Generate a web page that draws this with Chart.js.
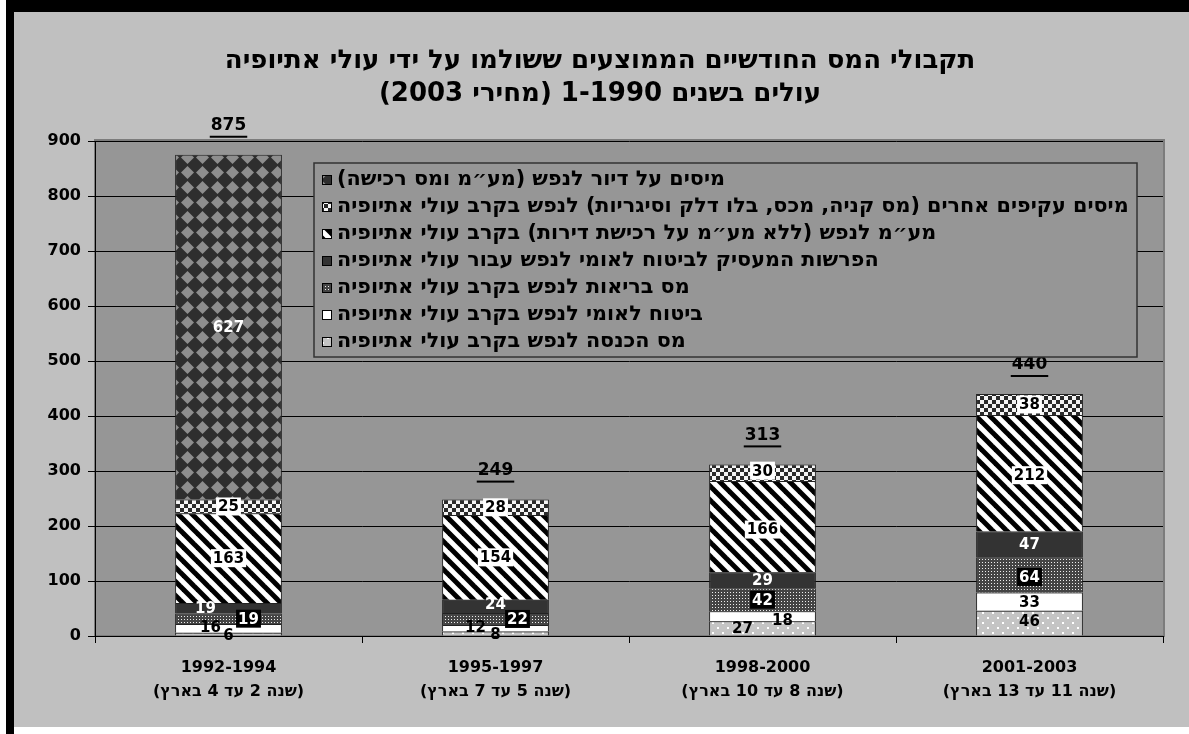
<!DOCTYPE html>
<html lang="he">
<head>
<meta charset="utf-8">
<title>תקבולי המס</title>
<script src="https://cdn.jsdelivr.net/npm/chart.js@4.4.1/dist/chart.umd.min.js"></script>
<style>
  html, body { margin: 0; padding: 0; background: #fff; }
  canvas { display: block; }
</style>
</head>
<body>
<canvas id="taxChart" width="1189" height="734" dir="rtl"></canvas>
<script>
// נתונים (ש"ח לנפש לחודש, מחירי 2003)
const periods = [
    ['1992-1994', '(שנה 2 עד 4 בארץ)'],
    ['1995-1997', '(שנה 5 עד 7 בארץ)'],
    ['1998-2000', '(שנה 8 עד 10 בארץ)'],
    ['2001-2003', '(שנה 11 עד 13 בארץ)']
];
const incomeTax = [6, 8, 27, 46];
const nationalInsurance = [16, 12, 18, 33];
const healthTax = [19, 22, 42, 64];
const employerInsurance = [19, 24, 29, 47];
const vatTax = [163, 154, 166, 212];
const otherIndirect = [25, 28, 30, 38];
const housingTax = [627, 0, 0, 0];
const totals = [875, 249, 313, 440];

const seriesNames = [
    'מס הכנסה לנפש בקרב עולי אתיופיה',
    'ביטוח לאומי לנפש בקרב עולי אתיופיה',
    'מס בריאות לנפש בקרב עולי אתיופיה',
    'הפרשות המעסיק לביטוח לאומי לנפש עבור עולי אתיופיה',
    'מע״מ לנפש (ללא מע״מ על רכישת דירות) בקרב עולי אתיופיה',
    'מיסים עקיפים אחרים (מס קניה, מכס, בלו דלק וסיגריות) לנפש בקרב עולי אתיופיה',
    'מיסים על דיור לנפש (מע״מ ומס רכישה)'
];
const titleLines = [
    'תקבולי המס החודשיים הממוצעים ששולמו על ידי עולי אתיופיה',
    'עולים בשנים 1-1990 (מחירי 2003)'
];

const FONT = '"DejaVu Sans", "Liberation Sans", sans-serif';

// גודל גופן שמתאים את הטקסט לרוחב נתון
function fitSize(ctx, text, width, maxSize) {
    ctx.font = 'bold 20px ' + FONT;
    const w = ctx.measureText(text).width;
    return Math.min(maxSize, 20 * width / w);
}

// דוגמאות מילוי
function makePattern(size, draw) {
    const c = document.createElement('canvas');
    c.width = size;
    c.height = size;
    const g = c.getContext('2d');
    draw(g, size);
    return g.createPattern(c, 'repeat');
}

const fills = [
    makePattern(10, (g, s) => {
        g.fillStyle = '#c4c4c4'; g.fillRect(0, 0, s, s);
        g.fillStyle = '#fff'; g.fillRect(2, 2, 2, 2); g.fillRect(7, 7, 2, 2);
    }),
    '#ffffff',
    makePattern(3, (g, s) => {
        g.fillStyle = '#444'; g.fillRect(0, 0, s, s);
        g.fillStyle = '#eee'; g.fillRect(1, 1, 1, 1);
    }),
    '#333333',
    makePattern(14, (g, s) => {
        g.fillStyle = '#fff'; g.fillRect(0, 0, s, s);
        g.strokeStyle = '#000'; g.lineWidth = 5;
        for (let k = -1; k <= 1; k++) {
            g.beginPath();
            g.moveTo(-3, k * s - 3);
            g.lineTo(s + 3, k * s + s + 3);
            g.stroke();
        }
    }),
    makePattern(8, (g, s) => {
        g.fillStyle = '#f4f4f4'; g.fillRect(0, 0, s, s);
        g.fillStyle = '#2a2a2a'; g.fillRect(0, 0, 4, 4); g.fillRect(4, 4, 4, 4);
    }),
    makePattern(15, (g, s) => {
        g.fillStyle = '#2e2e2e'; g.fillRect(0, 0, s, s);
        g.fillStyle = '#8e8e8e';
        g.beginPath();
        g.moveTo(7.5, 1); g.lineTo(14, 7.5); g.lineTo(7.5, 14); g.lineTo(1, 7.5);
        g.closePath();
        g.fill();
    })
];

// סגנון תוויות הערכים לכל סדרה
const labelStyles = [
    { color: '#000', box: null },
    { color: '#000', box: null },
    { color: '#fff', box: '#000' },
    { color: '#fff', box: null },
    { color: '#000', box: '#fff' },
    { color: '#000', box: '#fff' },
    { color: '#fff', box: null }
];
// הזזות קטנות לתוויות צפופות [סדרה][עמודה] = [dx, dy]
const labelShift = [
    [[0, 1], [0, 1], [-20, 0], [0, -2]],
    [[-18, -1], [-20, -1], [20, 4], [0, 0]],
    [[20, 0], [22, 0], [0, 0], [0, 2]],
    [[-23, 0], [0, -2], [0, 0], [0, 0]],
    [[0, 0], [0, 0], [0, 3], [0, 2]],
    [[0, 0], [0, 0], [0, -2], [0, 0]],
    [[0, 0], [0, 0], [0, 0], [0, 0]]
];

const seriesData = [incomeTax, nationalInsurance, healthTax, employerInsurance, vatTax, otherIndirect, housingTax];

const backdropPlugin = {
    id: 'backdrop',
    beforeDraw(chart) {
        const { ctx, chartArea: a } = chart;
        ctx.save();
        ctx.fillStyle = '#fff';
        ctx.fillRect(0, 0, chart.width, chart.height);
        ctx.fillStyle = '#000';
        ctx.fillRect(6, 0, 8, chart.height);
        ctx.fillRect(6, 0, chart.width - 6, 12);
        ctx.fillStyle = '#c0c0c0';
        ctx.fillRect(14, 12, chart.width - 14, 715);
        ctx.fillStyle = '#969696';
        ctx.fillRect(a.left, a.top, a.right - a.left, a.bottom - a.top);
        ctx.strokeStyle = '#7c7c7c';
        ctx.lineWidth = 2;
        ctx.strokeRect(a.left, a.top - 1, a.right - a.left + 1, a.bottom - a.top + 1);

        // כותרת
        ctx.direction = 'rtl';
        const size = fitSize(ctx, titleLines[0], 756, 26);
        ctx.font = 'bold ' + size + 'px ' + FONT;
        ctx.fillStyle = '#000';
        ctx.textAlign = 'center';
        ctx.textBaseline = 'middle';
        ctx.fillText(titleLines[0], 600, 61);
        ctx.fillText(titleLines[1], 600, 94);
        ctx.restore();
    }
};

const labelsPlugin = {
    id: 'segmentLabels',
    afterDatasetsDraw(chart) {
        const { ctx } = chart;
        const yScale = chart.scales.y;
        ctx.save();
        ctx.direction = 'ltr';
        ctx.textAlign = 'center';
        ctx.textBaseline = 'middle';
        ctx.font = 'bold 15px ' + FONT;
        chart.data.datasets.forEach((ds, i) => {
            const meta = chart.getDatasetMeta(i);
            meta.data.forEach((el, j) => {
                const v = ds.data[j];
                if (!v) return;
                const [dx, dy] = labelShift[i][j];
                const x = el.x + dx;
                const y = (el.y + el.base) / 2 + dy;
                const txt = String(v);
                const st = labelStyles[i];
                if (st.box) {
                    const w = ctx.measureText(txt).width + 4;
                    ctx.fillStyle = st.box;
                    ctx.fillRect(x - w / 2, y - 9, w, 18);
                }
                ctx.fillStyle = st.color;
                ctx.fillText(txt, x, y + 1);
            });
        });

        // סכומים מעל העמודות
        ctx.font = 'bold 17px ' + FONT;
        ctx.fillStyle = '#000';
        totals.forEach((t, j) => {
            const sum = seriesData.reduce((s, arr) => s + arr[j], 0);
            const el = chart.getDatasetMeta(0).data[j];
            const y = yScale.getPixelForValue(sum) - 29;
            const txt = String(t);
            ctx.fillText(txt, el.x, y);
            const w = ctx.measureText(txt).width;
            ctx.fillRect(el.x - w / 2 - 1, y + 10, w + 2, 2);
        });
        ctx.restore();
    },
    afterDraw(chart) {
        // מקרא
        const { ctx } = chart;
        ctx.save();
        const lx = 314, ly = 163, lw = 823, lh = 194;
        ctx.fillStyle = '#969696';
        ctx.fillRect(lx, ly, lw, lh);
        ctx.strokeStyle = '#333';
        ctx.lineWidth = 1.5;
        ctx.strokeRect(lx, ly, lw, lh);
        ctx.direction = 'rtl';
        ctx.textAlign = 'left';
        ctx.textBaseline = 'middle';
        const size = fitSize(ctx, seriesNames[5], 792, 21);
        ctx.font = 'bold ' + size + 'px ' + FONT;
        for (let r = 0; r < seriesNames.length; r++) {
            const i = seriesNames.length - 1 - r;
            const cy = 180 + r * 27;
            ctx.fillStyle = fills[i];
            ctx.fillRect(322, cy - 5, 10, 10);
            ctx.strokeStyle = '#000';
            ctx.lineWidth = 1;
            ctx.strokeRect(322.5, cy - 4.5, 9, 9);
            ctx.fillStyle = '#000';
            ctx.fillText(seriesNames[i], 337, cy);
        }
        ctx.restore();
    }
};

const ctx = document.getElementById('taxChart').getContext('2d');
const taxChart = new Chart(ctx, {
    type: 'bar',
    data: {
        labels: periods,
        datasets: seriesData.map((arr, i) => ({
            label: seriesNames[i],
            data: arr,
            backgroundColor: fills[i],
            borderColor: '#222',
            borderWidth: 1,
            categoryPercentage: 1,
            barPercentage: 0.4
        }))
    },
    options: {
        responsive: false,
        animation: false,
        layout: {
            padding: { top: 141, right: 26, left: 0, bottom: 0 }
        },
        plugins: {
            legend: { display: false },
            title: { display: false },
            tooltip: { enabled: false }
        },
        scales: {
            x: {
                stacked: true,
                afterFit: (scale) => { scale.height = 98; },
                grid: {
                    display: true,
                    drawOnChartArea: false,
                    drawTicks: true,
                    tickLength: 7,
                    color: '#000',
                    offset: true
                },
                border: { color: '#000', width: 1 },
                ticks: {
                    color: '#000',
                    padding: 12,
                    font: { family: FONT, size: 16, weight: 'bold', lineHeight: 1.55 }
                }
            },
            y: {
                stacked: true,
                min: 0,
                max: 900,
                afterFit: (scale) => { scale.width = 95; },
                ticks: {
                    stepSize: 100,
                    color: '#000',
                    padding: 7,
                    font: { family: FONT, size: 16, weight: 'bold' }
                },
                grid: {
                    color: '#000',
                    lineWidth: 1,
                    tickLength: 7
                },
                border: { color: '#000', width: 1 }
            }
        }
    },
    plugins: [backdropPlugin, labelsPlugin]
});
</script>
</body>
</html>
